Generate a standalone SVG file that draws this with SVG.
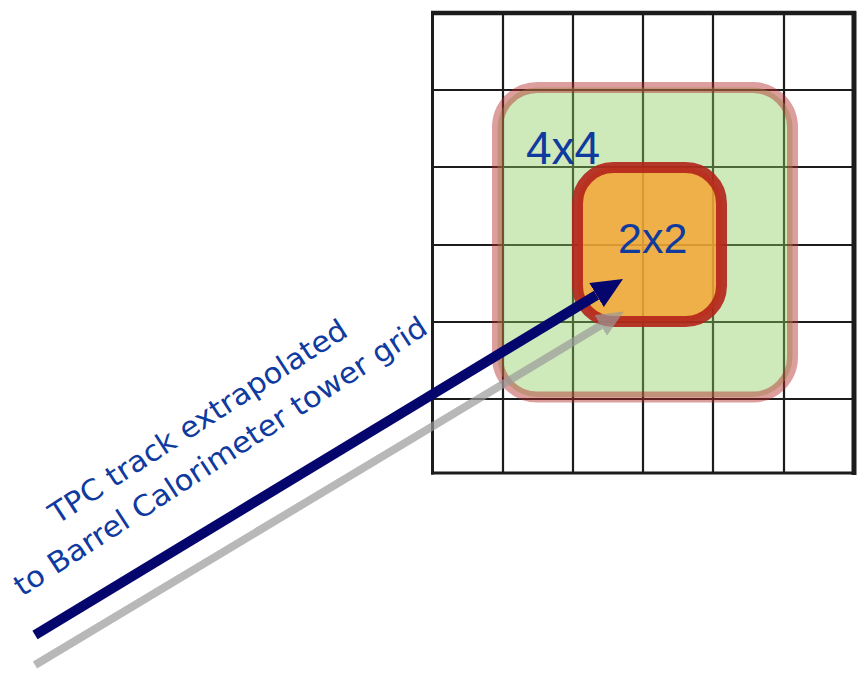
<svg xmlns="http://www.w3.org/2000/svg" width="865" height="678" viewBox="0 0 865 678">
<style>
.grid line{stroke:#1c1c1c;stroke-width:2.2}
.lbl{font-family:"Liberation Sans","DejaVu Sans",sans-serif;fill:#0f3a9e}
.track{font-family:"DejaVu Sans",sans-serif;font-size:29px;fill:#0f3a9e}
</style>
<defs>
<marker id="navyHead" viewBox="0 -14 31 28" refX="0" refY="0" markerWidth="31" markerHeight="28" markerUnits="userSpaceOnUse" orient="auto">
<path d="M0,-14 L31,0 L0,14 z" fill="#05056e"/>
</marker>
<marker id="grayHead" viewBox="0 -12 27 24" refX="0" refY="0" markerWidth="27" markerHeight="24" markerUnits="userSpaceOnUse" orient="auto">
<path d="M0,-12 L27,0 L0,12 z" fill="#9a9a9a" fill-opacity="0.7"/>
</marker>
</defs>
<rect width="865" height="678" fill="#ffffff"/>
<g id="grid" class="grid">
<line x1="503" y1="13" x2="503" y2="473"/>
<line x1="573" y1="13" x2="573" y2="473"/>
<line x1="643" y1="13" x2="643" y2="473"/>
<line x1="713" y1="13" x2="713" y2="473"/>
<line x1="784" y1="13" x2="784" y2="473"/>
<line x1="432" y1="90" x2="854" y2="90"/>
<line x1="432" y1="167" x2="854" y2="167"/>
<line x1="432" y1="245" x2="854" y2="245"/>
<line x1="432" y1="322" x2="854" y2="322"/>
<line x1="432" y1="399" x2="854" y2="399"/>
<line x1="432.5" y1="11" x2="432.5" y2="474.5" style="stroke-width:3"/>
<line x1="431" y1="473" x2="856" y2="473" style="stroke-width:3"/>
<line x1="431" y1="13" x2="856" y2="13" style="stroke-width:4.5"/>
<line x1="854" y1="11" x2="854" y2="475" style="stroke-width:5"/>
</g>
<g id="region4x4">
<rect x="497.5" y="87.5" width="295" height="309.5" rx="40" ry="40" fill="#8ecb5f" fill-opacity="0.43" stroke="#b42828" stroke-opacity="0.45" stroke-width="11"/>
<text class="lbl" x="526" y="164" font-size="46">4x4</text>
</g>
<g id="region2x2">
<rect x="577.5" y="167.5" width="144" height="154" rx="36" ry="36" fill="#f8a330" fill-opacity="0.82" stroke="#b3241a" stroke-opacity="0.9" stroke-width="11"/>
<text class="lbl" x="618" y="253" font-size="43">2x2</text>
</g>
<g id="connectors">
<line x1="35" y1="665" x2="600.7" y2="325.4" stroke="#9a9a9a" stroke-opacity="0.7" stroke-width="8" marker-end="url(#grayHead)"/>
<line x1="35" y1="635" x2="596.5" y2="295.1" stroke="#05056e" stroke-width="10" marker-end="url(#navyHead)"/>
</g>
<g id="label">
<text class="track" transform="translate(57,525) rotate(-33)" textLength="349" lengthAdjust="spacingAndGlyphs">TPC track extrapolated</text>
<text class="track" transform="translate(22,597) rotate(-33)" textLength="486" lengthAdjust="spacingAndGlyphs">to Barrel Calorimeter tower grid</text>
</g>
</svg>
